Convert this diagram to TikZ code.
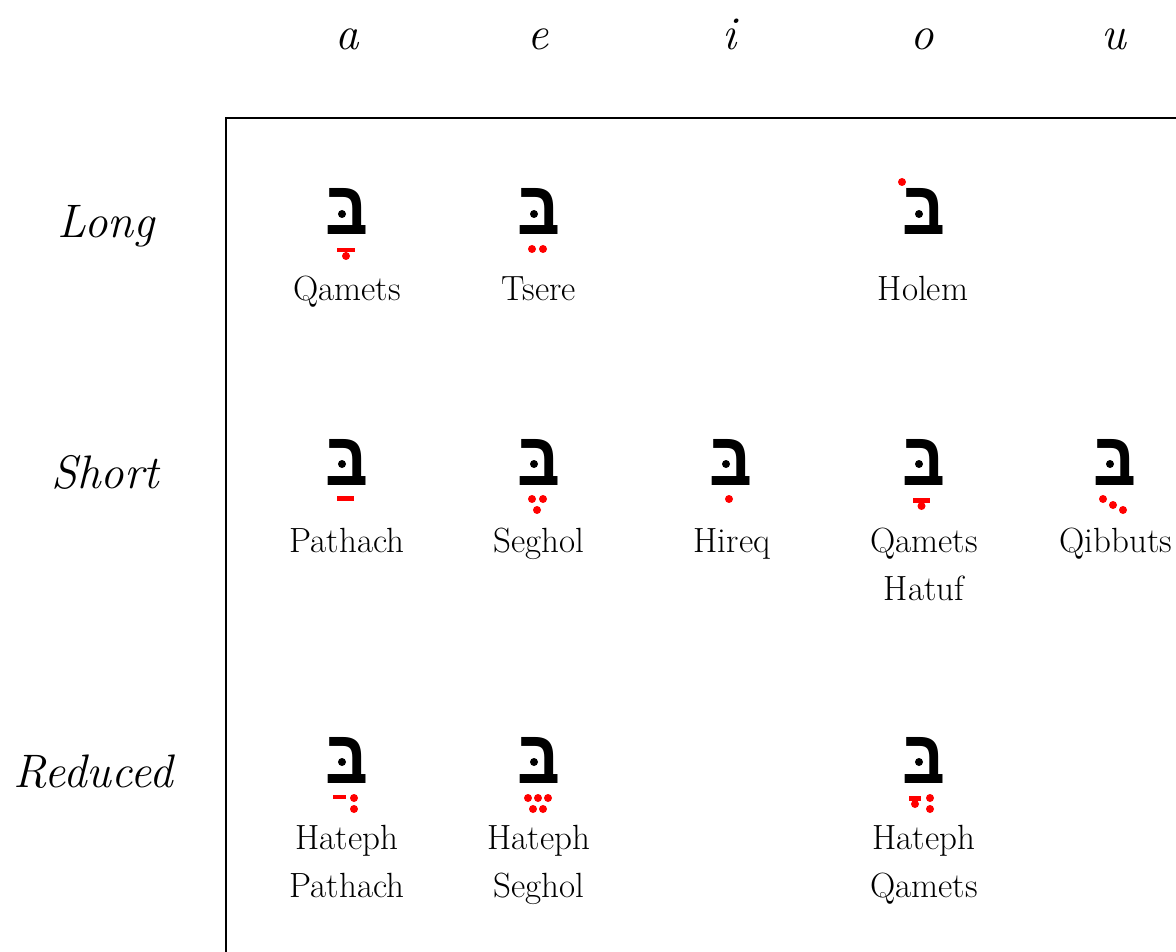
\documentclass[tikz,border=0pt]{standalone}
\usepackage{fontspec}
\usetikzlibrary{calc}
\newfontfamily\hebfont{Liberation Sans}[BoldFont={Liberation Sans Bold}]
\begin{document}
\begin{tikzpicture}[x=1pt,y=-1pt,
  hdr/.style={font=\fontsize{47}{52}\selectfont\itshape, anchor=base, inner sep=0pt},
  lbl/.style={font=\fontsize{35}{48}\selectfont, anchor=base, align=center, inner sep=0pt},
  bet/.style={font=\fontsize{76}{80}\selectfont\hebfont\bfseries, anchor=base, inner sep=0pt, xscale=0.88},
  pt/.style={fill=red, draw=none},
  frame/.style={line width=1.3pt, draw=black}]
\useasboundingbox (0,0) rectangle (1176,952);

% frame
\coordinate (fb) at (226,952);
\coordinate (fc) at (226,118);
\coordinate (fr) at (1176,118);
\draw[frame] (fb) -- (fc) -- (fr);

% column heads
\node[hdr] (ha) at (347,50) {a};
\node[hdr] (he) at (538,50) {e};
\node[hdr] (hi) at (730,50) {i};
\node[hdr] (ho) at (922,50) {o};
\node[hdr] (hu) at (1114,50) {u};

% row heads
\node[hdr] (rlong) at (106,238) {Long};
\node[hdr] (rshort) at (105,488) {Short};
\node[hdr] (rred) at (93,787) {Reduced};

% bet with dagesh; origin of each cell = bottom centre of the letter
\newcommand{\betat}[2]{%
  \coordinate (#1) at (#2);
  \node[bet] (b#1) at (#1) {ב};
  \fill[black] ($(#1)+(-5,-21)$) circle (4);}
% vowel points, drawn relative to the cell origin
\newcommand{\dotat}[3]{\fill[pt] ($(#1)+({#2},{#3})$) circle (4);}
\newcommand{\barat}[5]{\fill[pt] ($(#1)+({#2},{#3})$) rectangle ($(#1)+({#4},{#5})$);}
% qamets: bar with a stem and a dot below
\newcommand{\qametsat}[3]{%
  \barat{#1}{#2}{13}{#3}{17.5}
  \fill[pt] ($(#1)+({(#2+#3)/2-1.4},16)$) rectangle ($(#1)+({(#2+#3)/2+1.4},21)$);
  \dotat{#1}{(#2+#3)/2}{21}}

% Long row
\betat{qa}{347,235}
\qametsat{qa}{-10}{8}
\node[lbl] (lqa) at (347,301) {Qamets};

\betat{ts}{539,235}
\dotat{ts}{-7}{14}\dotat{ts}{4}{14}
\node[lbl] (lts) at (539,301) {Tsere};

\betat{ho}{924,235}
\dotat{ho}{-22}{-53}
\node[lbl] (lho) at (923,301) {Holem};

% Short row
\betat{pa}{347,485}
\barat{pa}{-10}{11}{7}{16}
\node[lbl] (lpa) at (347,552) {Pathach};

\betat{se}{539,485}
\dotat{se}{-7}{14}\dotat{se}{4}{14}\dotat{se}{-2}{25}
\node[lbl] (lse) at (539,552) {Seghol};

\betat{hi}{731,485}
\dotat{hi}{-2}{14}
\node[lbl] (lhi) at (732,552) {Hireq};

\betat{qh}{924,485}
\qametsat{qh}{-11}{6}
\node[lbl] (lqh) at (924,600) {Qamets\\Hatuf};

\betat{qi}{1115,485}
\dotat{qi}{-12}{14}\dotat{qi}{-2}{20}\dotat{qi}{8}{25}
\node[lbl] (lqi) at (1116,552) {Qibbuts};

% Reduced row
\betat{hp}{347,783}
\barat{hp}{-14}{12}{-1}{16}
\dotat{hp}{7}{15}\dotat{hp}{7}{26}
\node[lbl] (lhp) at (347,897) {Hateph\\Pathach};

\betat{hs}{539,783}
\dotat{hs}{-11}{15}\dotat{hs}{-1}{15}\dotat{hs}{9}{15}
\dotat{hs}{-6}{26}\dotat{hs}{4}{26}
\node[lbl] (lhs) at (539,897) {Hateph\\Seghol};

\betat{hq}{924,783}
\qametsat{hq}{-15}{-3}
\dotat{hq}{6}{15}\dotat{hq}{6}{26}
\node[lbl] (lhq) at (924,897) {Hateph\\Qamets};

\end{tikzpicture}
\end{document}
